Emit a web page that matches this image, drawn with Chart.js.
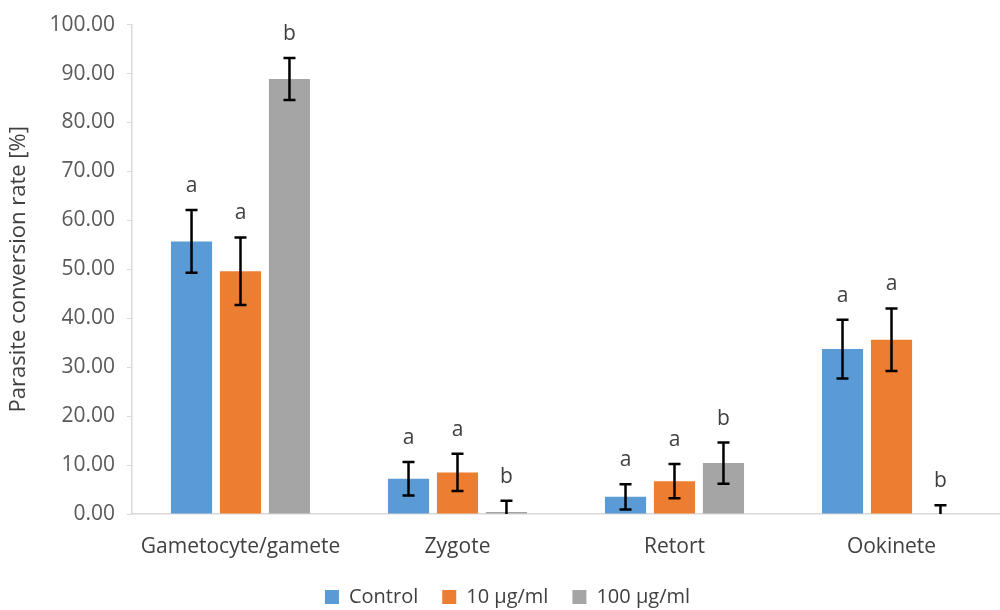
<!DOCTYPE html>
<html>
<head>
<meta charset="utf-8">
<script src="https://cdn.jsdelivr.net/npm/chart.js@4.4.1/dist/chart.umd.min.js"></script>
<style>
  html, body { margin: 0; padding: 0; background: #ffffff; }
  #wrap { width: 1000px; height: 610px; position: relative; }
</style>
</head>
<body>
<div id="wrap"><canvas id="chart"></canvas></div>
<script>
// Données
const stages = ['Gametocyte/gamete', 'Zygote', 'Retort', 'Ookinete'];
const seriesNames = ['Control', '10 µg/ml', '100 µg/ml'];
const controlValues = [55.7, 7.2, 3.5, 33.7];
const low10Values = [49.6, 8.5, 6.7, 35.6];
const high100Values = [88.9, 0.4, 10.4, 0.0];
const controlErrors = [6.4, 3.4, 2.6, 6.0];
const low10Errors = [6.9, 3.8, 3.5, 6.4];
const high100Errors = [4.3, 2.3, 4.2, 1.8];
const controlLetters = ['a', 'a', 'a', 'a'];
const low10Letters = ['a', 'a', 'a', 'a'];
const high100Letters = ['b', 'b', 'b', 'b'];
const yTicks = [0, 10, 20, 30, 40, 50, 60, 70, 80, 90, 100];

const colors = ['#5B9BD5', '#ED7D31', '#A5A5A5'];
const FONT = '"Open Sans", sans-serif';

// Barres d'erreur + lettres de significativité
const errorBarPlugin = {
    id: 'errorBars',
    afterDatasetsDraw(chart) {
        const ctx = chart.ctx;
        const yScale = chart.scales.y;
        const area = chart.chartArea;
        chart.data.datasets.forEach((ds, i) => {
            const meta = chart.getDatasetMeta(i);
            meta.data.forEach((bar, j) => {
                const v = ds.data[j];
                const e = ds.errors[j];
                const x = bar.x;
                const yTop = yScale.getPixelForValue(v + e);
                const yBot = yScale.getPixelForValue(v - e);
                ctx.save();
                ctx.beginPath();
                ctx.rect(area.left, area.top - 40, area.right - area.left, area.bottom - area.top + 40);
                ctx.clip();
                ctx.strokeStyle = '#000000';
                ctx.lineWidth = 2.5;
                ctx.beginPath();
                ctx.moveTo(x, yTop);
                ctx.lineTo(x, yBot);
                ctx.moveTo(x - 6, yTop);
                ctx.lineTo(x + 6, yTop);
                ctx.moveTo(x - 6, yBot);
                ctx.lineTo(x + 6, yBot);
                ctx.stroke();
                ctx.restore();

                ctx.save();
                ctx.fillStyle = '#404040';
                ctx.font = '21px ' + FONT;
                ctx.textAlign = 'center';
                ctx.textBaseline = 'middle';
                ctx.fillText(ds.letters[j], x, yTop - 24);
                ctx.restore();
            });
        });
    }
};

const chart = new Chart(document.getElementById('chart'), {
    type: 'bar',
    data: {
        labels: stages,
        datasets: [
            { label: seriesNames[0], data: controlValues, errors: controlErrors, letters: controlLetters, backgroundColor: colors[0] },
            { label: seriesNames[1], data: low10Values, errors: low10Errors, letters: low10Letters, backgroundColor: colors[1] },
            { label: seriesNames[2], data: high100Values, errors: high100Errors, letters: high100Letters, backgroundColor: colors[2] }
        ]
    },
    options: {
        responsive: true,
        maintainAspectRatio: false,
        animation: false,
        devicePixelRatio: 1,
        categoryPercentage: 0.677,
        barPercentage: 0.84,
        layout: { padding: { top: 24, right: -9, left: 6, bottom: -7 } },
        plugins: {
            legend: {
                position: 'bottom',
                labels: {
                    color: '#404040',
                    font: { family: FONT, size: 20 },
                    boxWidth: 14,
                    boxHeight: 14,
                    padding: 24
                }
            },
            tooltip: { enabled: false }
        },
        scales: {
            x: {
                afterFit(axis) { axis.height = 49; },
                grid: { display: false },
                border: { color: '#D9D9D9', width: 1.5 },
                ticks: { color: '#404040', font: { family: FONT, size: 21 }, padding: 12 }
            },
            y: {
                min: 0,
                max: 100,
                afterBuildTicks(axis) {
                    axis.ticks = yTicks.map(v => ({ value: v }));
                },
                afterFit(axis) { axis.width = 126; },
                grid: { display: true, drawOnChartArea: false, drawTicks: true, tickLength: 5, color: '#D9D9D9' },
                border: { color: '#D9D9D9', width: 1.5 },
                ticks: {
                    color: '#595959',
                    font: { family: FONT, size: 21 },
                    padding: 12,
                    callback: v => Number(v).toFixed(2)
                },
                title: {
                    display: true,
                    text: 'Parasite conversion rate [%]',
                    color: '#404040',
                    font: { family: FONT, size: 22 },
                    padding: { top: 0, bottom: 4 }
                }
            }
        }
    },
    plugins: [errorBarPlugin]
});
</script>
</body>
</html>
